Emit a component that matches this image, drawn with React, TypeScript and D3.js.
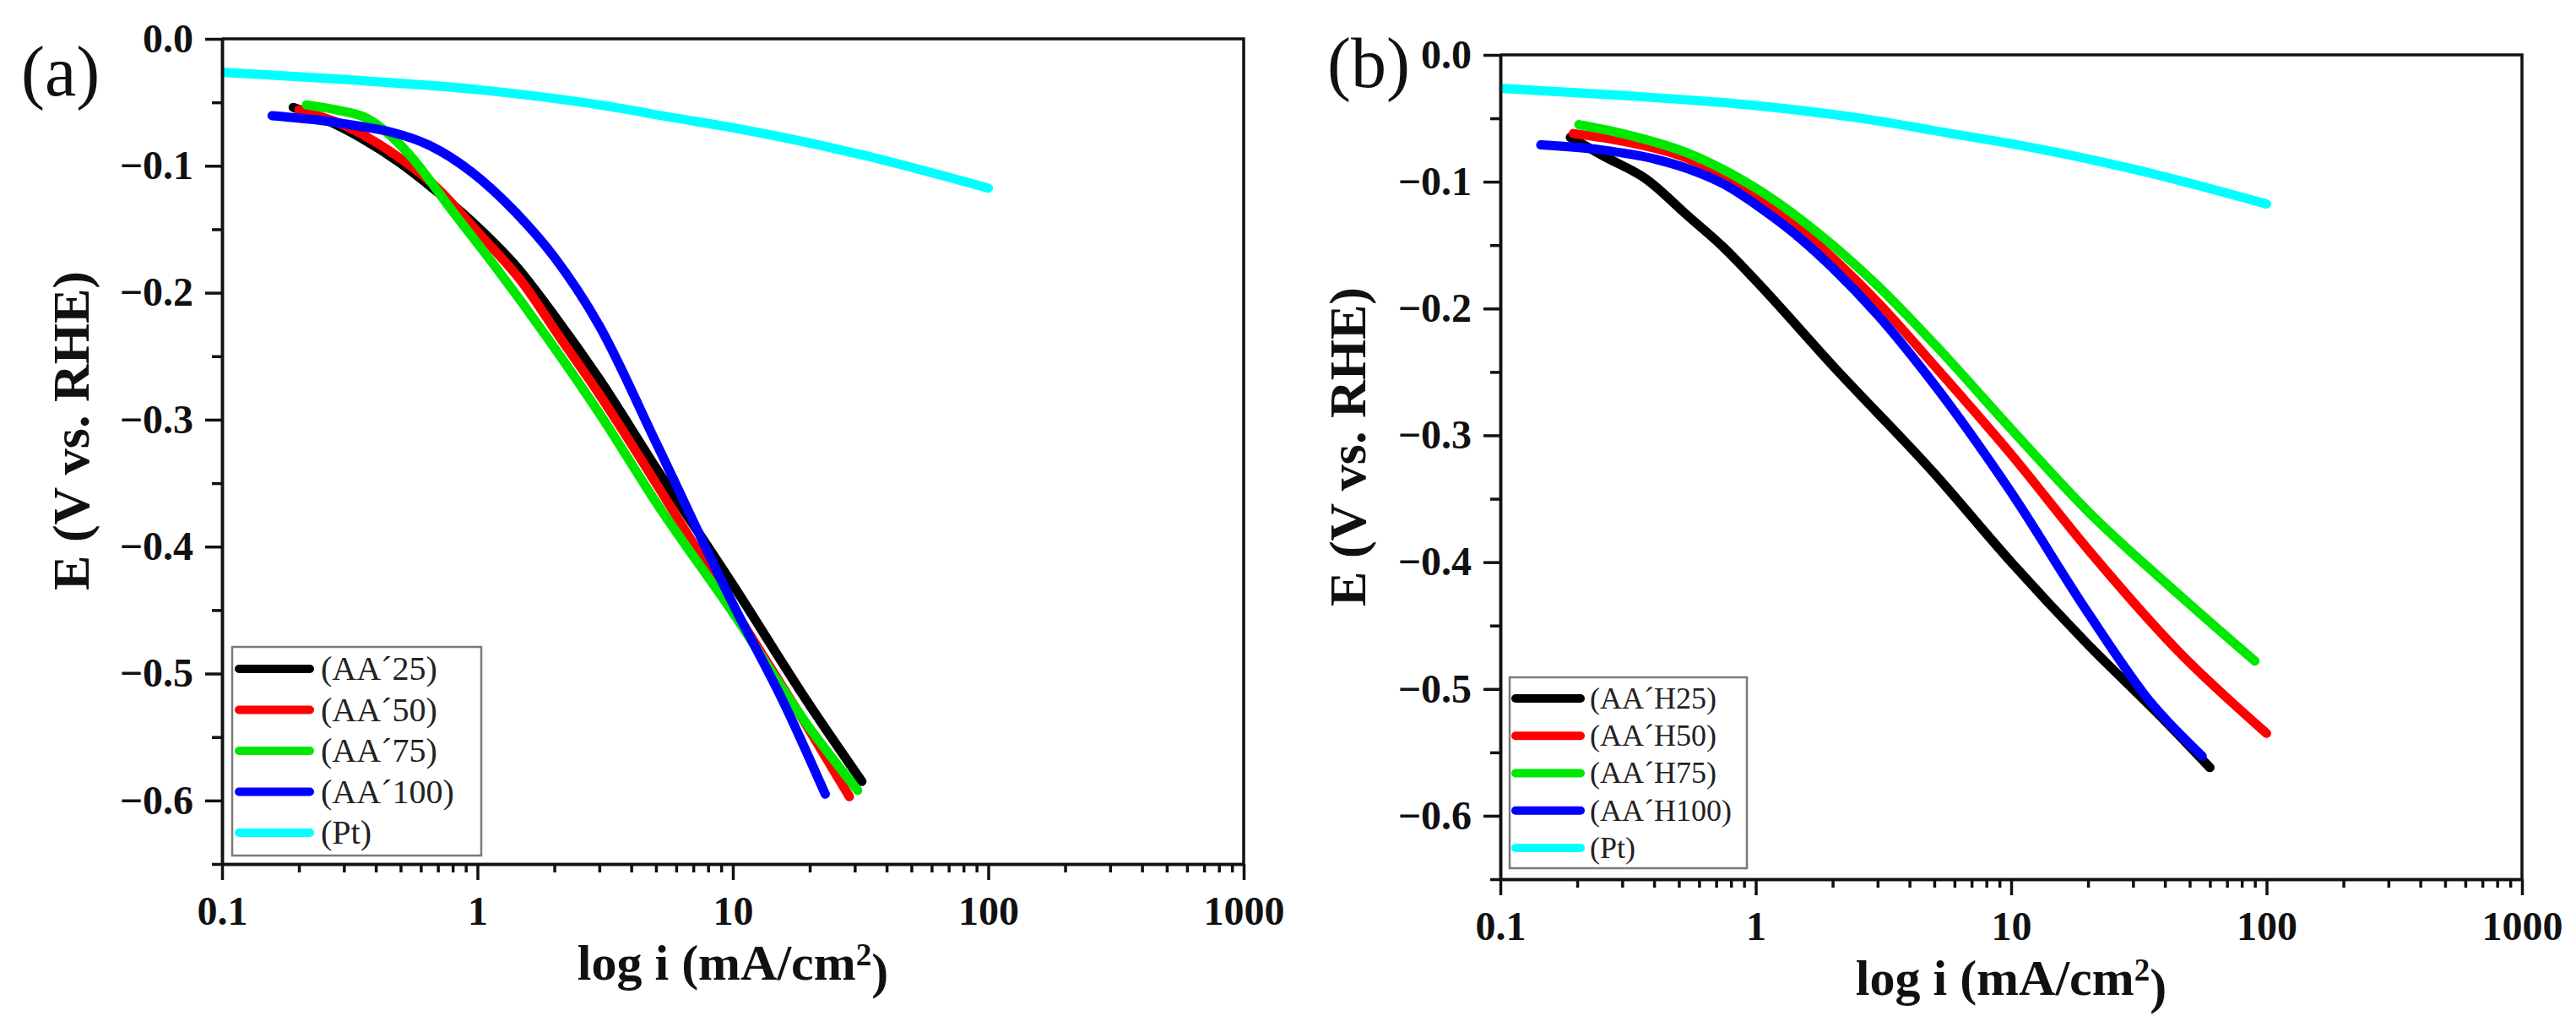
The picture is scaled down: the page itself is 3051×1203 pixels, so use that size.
import { useEffect, useRef } from "react";
import * as d3 from "d3";

type Pt = [number, number]; // [current mA/cm2, potential V]

// x: log i (mA/cm2), y: E (V vs. RHE)
const X_TICKS = [0.1, 1, 10, 100, 1000];
const X_MINOR = [0.1, 1, 10, 100].flatMap((d) => [2, 3, 4, 5, 6, 7, 8, 9].map((k) => +(d * k).toPrecision(3)));
const Y_TICKS = [0, -0.1, -0.2, -0.3, -0.4, -0.5, -0.6];
const Y_MINOR = [-0.05, -0.15, -0.25, -0.35, -0.45, -0.55, -0.65];

// Pt reference, same in both panels
const ptCurve: Pt[] = [
  [0.103, -0.0265], [0.3, -0.032], [1, -0.04], [3, -0.052], [6, -0.0625],
  [10, -0.07], [30, -0.09], [100, -0.1176],
];

// panel (a)
const aa25: Pt[] = [
  [0.19, -0.054], [0.25, -0.063], [0.35, -0.078], [0.5, -0.098], [0.7, -0.121],
  [1.0, -0.148], [1.43, -0.18], [2.0, -0.218], [3.0, -0.268], [5.0, -0.338],
  [10, -0.43], [20, -0.525], [32, -0.585],
];
const aa50: Pt[] = [
  [0.2, -0.056], [0.3, -0.068], [0.45, -0.088], [0.7, -0.118], [1.0, -0.152],
  [1.5, -0.192], [2.1, -0.235], [3.0, -0.28], [5.0, -0.35], [10, -0.448],
  [20, -0.545], [28.6, -0.597],
];
const aa75: Pt[] = [
  [0.214, -0.052], [0.28, -0.056], [0.368, -0.0625], [0.45, -0.075], [0.54, -0.091],
  [0.8, -0.136], [1.18, -0.18], [1.87, -0.235], [3.0, -0.295], [5.0, -0.365],
  [10, -0.452], [20, -0.543], [30.8, -0.592],
];
const aa100: Pt[] = [
  [0.157, -0.0605], [0.25, -0.0645], [0.35, -0.069], [0.45, -0.073], [0.65, -0.084],
  [0.95, -0.105], [1.4, -0.136], [2.0, -0.172], [3.0, -0.226], [5.0, -0.318],
  [10, -0.445], [16, -0.525], [23, -0.595],
];

// panel (b)
const aah25: Pt[] = [
  [0.188, -0.065], [0.255, -0.08], [0.373, -0.098], [0.546, -0.1275], [0.75, -0.152],
  [1.0, -0.178], [2.0, -0.245], [5.0, -0.33], [10, -0.4], [20, -0.465],
  [40, -0.525], [60, -0.562],
];
const aah50: Pt[] = [
  [0.193, -0.062], [0.3, -0.068], [0.546, -0.082], [1.0, -0.11], [2.0, -0.16],
  [3.0, -0.195], [5.0, -0.245], [10, -0.315], [20, -0.39], [45, -0.47], [100, -0.535],
];
const aah75: Pt[] = [
  [0.203, -0.055], [0.3, -0.062], [0.546, -0.0777], [1.0, -0.105], [2.0, -0.15],
  [3.0, -0.182], [5.0, -0.228], [10, -0.295], [20, -0.36], [45, -0.425], [90, -0.478],
];
const aah100: Pt[] = [
  [0.144, -0.071], [0.25, -0.075], [0.4, -0.082], [0.546, -0.09], [0.8, -0.105],
  [1.0, -0.118], [1.5, -0.145], [2.0, -0.168], [3.0, -0.205], [5.0, -0.26],
  [10, -0.345], [20, -0.44], [35, -0.51], [56, -0.553],
];

const COLORS = ["#000000", "#ff0000", "#00e800", "#0000ff", "#00ffff"];
const LABELS_A = ["(AA\u00b425)", "(AA\u00b450)", "(AA\u00b475)", "(AA\u00b4100)", "(Pt)"];
const LABELS_B = ["(AA\u00b4H25)", "(AA\u00b4H50)", "(AA\u00b4H75)", "(AA\u00b4H100)", "(Pt)"];

type Panel = {
  tag: string;
  tagX: number;
  tagY: number;
  left: number;
  right: number;
  top: number;
  bottom: number;
  series: Pt[][];
  labels: string[];
  legend: { x: number; y: number; w: number; h: number; row0: number; step: number; fs: number; l0: number; l1: number; tx: number };
  yTitle: [number, number];
  xTitle: [number, number];
};

const panels: Panel[] = [
  {
    tag: "(a)", tagX: 25, tagY: 113,
    left: 263, right: 1473, top: 46, bottom: 1023,
    series: [aa25, aa50, aa75, aa100, ptCurve],
    labels: LABELS_A,
    legend: { x: 275, y: 766, w: 295, h: 247, row0: 792, step: 48.5, fs: 40, l0: 283, l1: 367, tx: 380 },
    yTitle: [105, 510],
    xTitle: [868, 1160],
  },
  {
    tag: "(b)", tagX: 1572, tagY: 103,
    left: 1777, right: 2987, top: 65, bottom: 1041,
    series: [aah25, aah50, aah75, aah100, ptCurve],
    labels: LABELS_B,
    legend: { x: 1788, y: 802, w: 281, h: 226, row0: 827, step: 44.25, fs: 36, l0: 1795, l1: 1872, tx: 1883 },
    yTitle: [1617, 529],
    xTitle: [2382, 1178],
  },
];

const FONT = "'Liberation Serif', 'Times New Roman', serif";

function drawPanel(svg: d3.Selection<SVGSVGElement, unknown, null, undefined>, p: Panel) {
  const x = d3.scaleLog().domain([0.1, 1000]).range([p.left, p.right]);
  const y = d3.scaleLinear().domain([-0.65, 0]).range([p.bottom, p.top]);
  const g = svg.append("g");

  // curves
  const line = d3
    .line<Pt>()
    .x((d) => x(d[0]))
    .y((d) => y(d[1]))
    .curve(d3.curveMonotoneX);

  p.series.forEach((s, i) => {
    g.append("path")
      .datum(s)
      .attr("d", line)
      .attr("fill", "none")
      .attr("stroke", COLORS[i])
      .attr("stroke-width", 11)
      .attr("stroke-linecap", "round")
      .attr("stroke-linejoin", "round");
  });

  // axes
  const styleAxis = (sel: d3.Selection<SVGGElement, unknown, null, undefined>) => {
    sel.select(".domain").attr("stroke", "#111").attr("stroke-width", 3.5);
    sel.selectAll(".tick line").attr("stroke", "#111").attr("stroke-width", 3.5);
    sel
      .selectAll(".tick text")
      .attr("fill", "#111")
      .style("font-family", FONT)
      .style("font-weight", "bold")
      .style("font-size", "48px");
  };

  g.append("g")
    .attr("transform", `translate(0,${p.bottom})`)
    .call(d3.axisBottom(x).tickValues(X_MINOR).tickSize(10).tickSizeOuter(0).tickFormat(() => ""))
    .call(styleAxis);
  g.append("g")
    .attr("transform", `translate(0,${p.bottom})`)
    .call(
      d3
        .axisBottom(x)
        .tickValues(X_TICKS)
        .tickSize(19)
        .tickSizeOuter(0)
        .tickPadding(19)
        .tickFormat((d) => String(d))
    )
    .call(styleAxis);

  g.append("g")
    .attr("transform", `translate(${p.left},0)`)
    .call(d3.axisLeft(y).tickValues(Y_MINOR).tickSize(12).tickSizeOuter(0).tickFormat(() => ""))
    .call(styleAxis);
  g.append("g")
    .attr("transform", `translate(${p.left},0)`)
    .call(
      d3
        .axisLeft(y)
        .tickValues(Y_TICKS)
        .tickSize(20)
        .tickSizeOuter(0)
        .tickPadding(14)
        .tickFormat((d) => d3.format(".1f")(d as number))
    )
    .call(styleAxis);

  // frame top + right
  g.append("path")
    .attr("d", `M${p.left},${p.top}H${p.right}V${p.bottom}`)
    .attr("fill", "none")
    .attr("stroke", "#111")
    .attr("stroke-width", 3.5);

  // legend
  const L = p.legend;
  const lg = g.append("g");
  lg.append("rect")
    .attr("x", L.x)
    .attr("y", L.y)
    .attr("width", L.w)
    .attr("height", L.h)
    .attr("fill", "#fff")
    .attr("stroke", "#7a7a7a")
    .attr("stroke-width", 2.5);
  p.labels.forEach((lab, i) => {
    const ry = L.row0 + i * L.step;
    lg.append("line")
      .attr("x1", L.l0)
      .attr("x2", L.l1)
      .attr("y1", ry)
      .attr("y2", ry)
      .attr("stroke", COLORS[i])
      .attr("stroke-width", 10)
      .attr("stroke-linecap", "round");
    lg.append("text")
      .attr("x", L.tx)
      .attr("y", ry)
      .attr("dy", "0.33em")
      .style("font-family", FONT)
      .style("font-size", `${L.fs}px`)
      .attr("fill", "#222")
      .text(lab);
  });

  // titles
  g.append("text")
    .attr("transform", `translate(${p.yTitle[0]},${p.yTitle[1]}) rotate(-90)`)
    .attr("text-anchor", "middle")
    .style("font-family", FONT)
    .style("font-weight", "bold")
    .style("font-size", "62px")
    .attr("fill", "#111")
    .text("E (V vs. RHE)");

  const xt = g
    .append("text")
    .attr("x", p.xTitle[0])
    .attr("y", p.xTitle[1])
    .attr("text-anchor", "middle")
    .style("font-family", FONT)
    .style("font-weight", "bold")
    .style("font-size", "60px")
    .attr("fill", "#111");
  xt.append("tspan").text("log i (mA/cm");
  xt.append("tspan").attr("dy", "-0.45em").style("font-size", "37px").text("2");
  xt.append("tspan").attr("dy", "0.45em").text(")");

  g.append("text")
    .attr("x", p.tagX)
    .attr("y", p.tagY)
    .style("font-family", FONT)
    .style("font-size", "84px")
    .attr("fill", "#111")
    .text(p.tag);
}

export default function App() {
  const svgRef = useRef<SVGSVGElement>(null);

  useEffect(() => {
    if (!svgRef.current) return;
    document.body.style.margin = "0";
    const svg = d3.select(svgRef.current);
    svg.selectAll("*").remove();
    svg.append("rect").attr("width", 3051).attr("height", 1203).attr("fill", "#fff");
    panels.forEach((p) => drawPanel(svg, p));
  }, []);

  return <svg ref={svgRef} width={3051} height={1203} style={{ display: "block" }} />;
}
